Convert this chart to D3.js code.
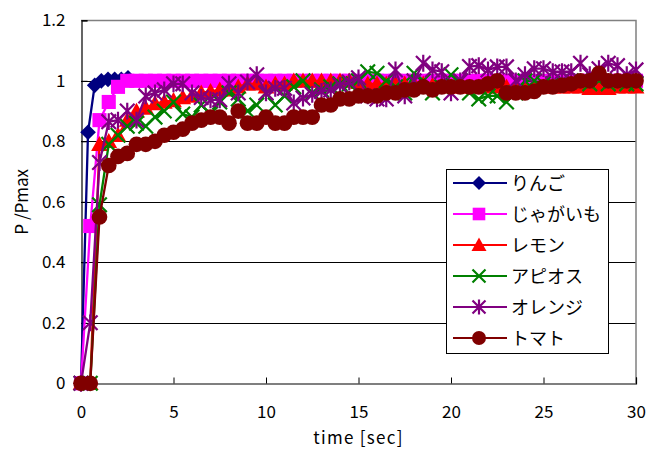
<!DOCTYPE html>
<html><head><meta charset="utf-8">
<script src="https://cdn.jsdelivr.net/npm/d3@7"></script>
<style>
body{margin:0;background:#fff;}
text{font-family:"Noto Sans CJK JP","Noto Sans",sans-serif;font-weight:400;fill:#000;}
</style></head>
<body><svg id="c" width="650" height="450"></svg>
<script>
const seriesNames = ["りんご","じゃがいも","レモン","アピオス","オレンジ","トマト"];
const xTicks = [0,5,10,15,20,25,30];
const yTicks = [0,0.2,0.4,0.6,0.8,1,1.2];
const yTickLabels = ["0","0.2","0.4","0.6","0.8","1","1.2"];
const times = [0,0.5,1,1.5,2,2.5,3,3.5,4,4.5,5,5.5,6,6.5,7,7.5,8,8.5,9,9.5,
  10,10.5,11,11.5,12,12.5,13,13.5,14,14.5,15,15.5,16,16.5,17,17.5,18,18.5,19,19.5,
  20,20.5,21,21.5,22,22.5,23,23.5,24,24.5,25,25.5,26,26.5,27,27.5,28,28.5,29,29.5,30];
const appleTimes = [0,0.38,0.74,1.1,1.46,1.82,2.18,2.54];
const apple = [0,0.83,0.985,1.0,1.005,1.005,1.005,1.01];
const potato = [0,0.52,0.87,0.93,0.98,1.0,1.0,1.0,1.0,1.0,
  1,1,1,1,1,1,1,1,1,1,
  1,1,1,1,1,1,1,1,1,1,
  1,1,1,1,1,1,1,1,1,1,
  1,1,1,1,1,1,1,1,1,1,
  1,1,1,1,1,1,1,1,1,1,
  1];
const lemon = [0,0,0.79,0.80,0.82,0.87,0.90,0.91,0.925,0.93,
  0.935,0.945,0.95,0.96,0.965,0.97,0.97,0.98,0.99,0.99,
  0.98,0.99,0.99,1.0,1.0,1.0,1.0,1.0,1.0,1.0,
  0.995,0.99,0.99,0.99,0.99,0.99,0.99,0.99,0.985,0.985,
  0.98,0.98,0.98,0.98,0.98,0.98,0.98,0.98,0.98,0.98,
  0.98,0.98,0.98,0.98,0.98,0.975,0.975,0.975,0.98,0.98,
  0.98];
const apios = [0,0,0.59,0.79,0.82,0.85,0.86,0.85,0.88,0.90,
  0.93,0.89,0.88,0.92,0.89,0.93,0.96,0.94,0.90,0.92,
  0.96,0.92,0.95,0.98,1.0,0.96,0.97,0.98,0.99,0.99,
  1.0,1.03,1.025,1.0,0.98,0.96,1.025,1.0,0.96,0.98,
  1.02,1.0,0.96,0.94,0.95,0.95,0.93,0.96,1.0,1.0,
  0.99,0.99,1.0,1.0,1.0,0.99,1.0,0.99,1.0,0.99,
  0.99];
const orange = [0,0.2,0.73,0.865,0.87,0.90,0.87,0.95,0.96,0.97,
  0.99,0.99,0.96,0.945,0.937,0.937,0.99,0.96,0.996,1.02,
  0.96,0.975,0.975,0.927,0.943,0.955,0.965,0.97,0.985,0.996,
  1.01,0.95,0.94,0.94,1.036,0.95,1.0,1.058,1.036,1.03,
  0.96,1.0,1.047,1.05,1.036,1.046,1.046,1.0,1.02,1.04,
  1.04,1.03,1.03,1.03,1.058,1.02,1.04,1.058,1.05,1.02,
  1.036];
const tomato = [0,0,0.55,0.72,0.75,0.76,0.79,0.79,0.80,0.82,
  0.83,0.84,0.86,0.87,0.88,0.88,0.86,0.90,0.86,0.86,
  0.88,0.86,0.86,0.88,0.88,0.88,0.92,0.92,0.94,0.94,
  0.95,0.95,0.95,0.96,0.96,0.97,0.97,0.98,0.97,0.98,
  0.98,0.98,0.98,0.98,0.99,1.0,0.96,0.96,0.96,0.965,
  0.98,0.98,0.985,0.99,1.0,1.0,1.025,1.0,1.0,1.0,
  1.0];

const colors = ["#000080","#FF00FF","#FF0000","#008000","#800080","#800000"];
const shapes = ["diamond","square","triangle","x","star","circle"];
const seriesTimes = [appleTimes,times,times,times,times,times];
const seriesValues = [apple,potato,lemon,apios,orange,tomato];

const svg = d3.select("#c");
const L=81, R=636, T=20.3, B=383.3;
const x = d3.scaleLinear().domain([0,30]).range([L,R]);
const y = d3.scaleLinear().domain([0,1.2]).range([B,T]);

svg.append("g").selectAll("line").data([0.2,0.4,0.6,0.8,1.0]).join("line")
  .attr("x1",L).attr("x2",R).attr("y1",d=>Math.round(y(d))+0.5).attr("y2",d=>Math.round(y(d))+0.5)
  .attr("stroke","#000").attr("stroke-width",1);
svg.append("path").attr("d",`M${L},${Math.round(T)+0.5}H${R}V${B}`).attr("fill","none")
  .attr("stroke","#808080").attr("stroke-width",1.5);

const ya = svg.append("g").attr("transform",`translate(${L+0.5},0)`)
  .call(d3.axisLeft(y).tickValues(yTicks).tickFormat((d,i)=>yTickLabels[i]).tickSize(-6).tickPadding(16));
const xa = svg.append("g").attr("transform",`translate(0,${Math.round(B)+0.5})`)
  .call(d3.axisBottom(x).tickValues(xTicks).tickFormat(d3.format("d")).tickSize(-6).tickPadding(22));
[ya,xa].forEach(g=>{
  g.select(".domain").attr("stroke","#000").attr("stroke-width",1.2);
  g.selectAll(".tick line").attr("stroke","#000");
  g.selectAll("text").style("font-size","17px").style("font-family",'"Noto Sans CJK JP","Noto Sans",sans-serif').attr("fill","#000");
});
xa.select(".tick line").remove();

svg.append("text").attr("x",(L+R)/2).attr("y",444).attr("text-anchor","middle")
  .style("font-size","17px").style("letter-spacing","1.3px").text("time [sec]");
svg.append("text").attr("transform",`translate(28,${(T+B)/2}) rotate(-90)`).attr("text-anchor","middle")
  .style("font-size","17px").text("P /Pmax");

function marker(g, shape, color, cx, cy, s){
  const k = s||1;
  if(shape==="diamond") g.append("path").attr("d",`M${cx},${cy-7*k}L${cx+7*k},${cy}L${cx},${cy+7*k}L${cx-7*k},${cy}Z`).attr("fill",color);
  else if(shape==="square") g.append("rect").attr("x",cx-6.3*k).attr("y",cy-6.3*k).attr("width",12.6*k).attr("height",12.6*k).attr("fill",color);
  else if(shape==="triangle") g.append("path").attr("d",`M${cx},${cy-7.5*k}L${cx+7.5*k},${cy+6*k}L${cx-7.5*k},${cy+6*k}Z`).attr("fill",color);
  else if(shape==="x") g.append("path").attr("d",`M${cx-6.5*k},${cy-6.5*k}L${cx+6.5*k},${cy+6.5*k}M${cx-6.5*k},${cy+6.5*k}L${cx+6.5*k},${cy-6.5*k}`).attr("stroke",color).attr("stroke-width",2.2).attr("fill","none");
  else if(shape==="star") g.append("path").attr("d",`M${cx-6.5*k},${cy-6.5*k}L${cx+6.5*k},${cy+6.5*k}M${cx-6.5*k},${cy+6.5*k}L${cx+6.5*k},${cy-6.5*k}M${cx},${cy-7.5*k}L${cx},${cy+7.5*k}`).attr("stroke",color).attr("stroke-width",2.2).attr("fill","none");
  else if(shape==="circle") g.append("circle").attr("cx",cx).attr("cy",cy).attr("r",7*k).attr("fill",color);
}

const line = d3.line().x(d=>x(d[0])).y(d=>y(d[1]));
seriesNames.forEach((name,i)=>{
  const pts = seriesTimes[i].map((t,j)=>[t, seriesValues[i][j]]);
  const g = svg.append("g");
  g.append("path").attr("d",line(pts)).attr("fill","none").attr("stroke",colors[i]).attr("stroke-width",2.3);
  pts.forEach(p=>marker(g, shapes[i], colors[i], x(p[0]), y(p[1]), 1.12));
});

const lg = svg.append("g");
lg.append("rect").attr("x",446.5).attr("y",169.5).attr("width",162).attr("height",184)
  .attr("fill","#fff").attr("stroke","#000").attr("stroke-width",1);
seriesNames.forEach((name,i)=>{
  const cy = 183 + i*31;
  lg.append("line").attr("x1",453).attr("x2",507).attr("y1",cy).attr("y2",cy).attr("stroke",colors[i]).attr("stroke-width",2);
  marker(lg, shapes[i], colors[i], 479, cy, 1);
  lg.append("text").attr("x",511).attr("y",cy+6.5).style("font-size","18px").text(name);
});
</script></body></html>
